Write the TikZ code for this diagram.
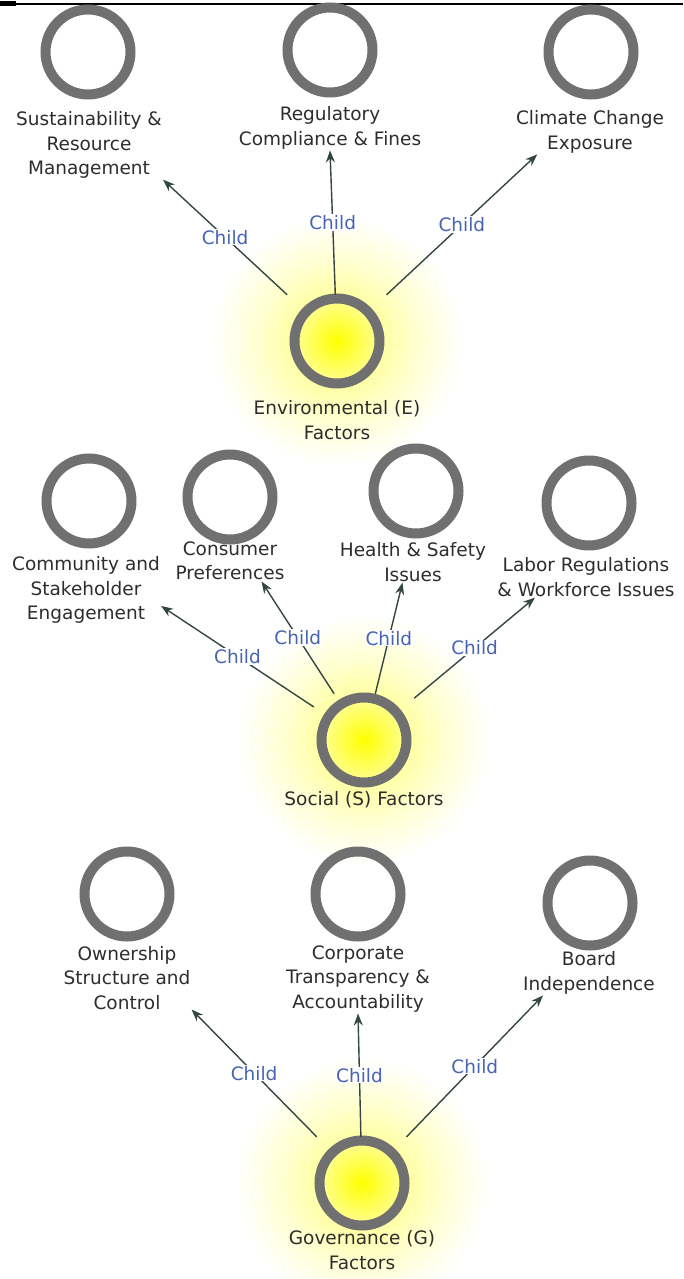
\documentclass[tikz,border=0pt]{standalone}
\usepackage{fontspec}
\setmainfont{DejaVu Sans}
\usetikzlibrary{arrows.meta, backgrounds}

\definecolor{ringgray}{RGB}{112,112,112}
\definecolor{linkgray}{RGB}{52,70,68}
\definecolor{childblue}{RGB}{72,100,176}
\definecolor{textgray}{RGB}{45,45,45}
\definecolor{glowyellow}{RGB}{255,255,60}
\definecolor{hubyellow}{RGB}{255,255,0}
\definecolor{hubpale}{RGB}{255,255,150}
% soft halo: the path radius maps to 25bp
\pgfdeclareradialshading{hubglow}{\pgfpoint{0bp}{0bp}}{%
  color(0bp)=(glowyellow!70); color(8bp)=(glowyellow!45);
  color(13bp)=(glowyellow!25); color(17.5bp)=(glowyellow!10);
  color(21bp)=(white); color(50bp)=(white)}

\begin{document}
\begin{tikzpicture}[x=1pt, y=-1pt,
    ringnode/.style={circle, draw=ringgray, line width=10pt, minimum size=85pt, inner sep=0pt},
    hubnode/.style={ringnode, inner color=hubyellow, outer color=hubpale},
    hubbox/.style={rectangle, minimum width=100pt, minimum height=92pt, inner sep=0pt},
    itemtext/.style={align=center, text=textgray, font=\fontsize{18.5}{24.5}\selectfont, inner sep=1pt},
    childlbl/.style={text=childblue, fill=white, font=\fontsize{18.5}{20}\selectfont, inner sep=1pt},
    link/.style={draw=linkgray, line width=1.4pt, -{Stealth[length=12pt, width=9pt]}}
]
    \useasboundingbox (0,0) rectangle (683,1279);

    % --- Top rule ---
    \draw[line width=1.6pt] (0,4) -- (683,4);
    \fill (0,1.5) rectangle (16,6.5);

    % --- Environmental (E) ---
    \node[hubbox] (E) at (337,341) {};
    \node[hubnode] (Eo) at (E) {};
    \node[itemtext] (Etxt) at (337,420) {Environmental (E)\\Factors};

    \node[ringnode] (e1o) at (88,52) {};
    \node[ringnode] (e2o) at (330,50) {};
    \node[ringnode] (e3o) at (591,52) {};
    \node[itemtext] (e1) at (89,145) {Sustainability \&\\Resource\\Management};
    \node[itemtext] (e2) at (330,128) {Regulatory\\Compliance \& Fines};
    \node[itemtext] (e3) at (590,132) {Climate Change\\Exposure};

    \draw[link] (E) -- (e1.south east) node[childlbl, pos=0.5] {Child};
    \draw[link] (E) -- (e2.south) node[childlbl, pos=0.5] {Child};
    \draw[link] (E) -- (e3.-157) node[childlbl, pos=0.5] {Child};

    % --- Social (S) ---
    \node[hubbox] (S) at (364,740) {};
    \node[hubnode] (So) at (S) {};
    \node[itemtext] (Stxt) at (364,800) {Social (S) Factors};

    \node[ringnode] (s1o) at (89,501) {};
    \node[ringnode] (s2o) at (230,497) {};
    \node[ringnode] (s3o) at (416,491) {};
    \node[ringnode] (s4o) at (589,503) {};
    \node[itemtext] (s1) at (86,590) {Community and\\Stakeholder\\Engagement};
    \node[itemtext] (s2) at (230,561) {Consumer\\Preferences};
    \node[itemtext] (s3) at (413,562) {Health \& Safety\\Issues};
    \node[itemtext] (s4) at (586,577) {Labor Regulations\\\& Workforce Issues};

    \draw[link] (S) -- (s1.-12) node[childlbl, pos=0.5] {Child};
    \draw[link] (S) -- (s2.-33) node[childlbl, pos=0.5] {Child};
    \draw[link] (S) -- (s3.-117) node[childlbl, pos=0.5] {Child};
    \draw[link] (S) -- (s4.-158) node[childlbl, pos=0.5] {Child};

    % --- Governance (G) ---
    \node[hubbox] (G) at (362,1183) {};
    \node[hubnode] (Go) at (G) {};
    \node[itemtext] (Gtxt) at (362,1250) {Governance (G)\\Factors};

    \node[ringnode] (g1o) at (127,894) {};
    \node[ringnode] (g2o) at (358,894) {};
    \node[ringnode] (g3o) at (590,903) {};
    \node[itemtext] (g1) at (127,978) {Ownership\\Structure and\\Control};
    \node[itemtext] (g2) at (358,979) {Corporate\\Transparency \&\\Accountability};
    \node[itemtext] (g3) at (589,973) {Board\\Independence};

    \draw[link] (G) -- (g1.-26) node[childlbl, pos=0.5] {Child};
    \draw[link] (G) -- (g2.south) node[childlbl, pos=0.5] {Child};
    \draw[link] (G) -- (g3.-154) node[childlbl, pos=0.5] {Child};

    % --- Glow behind the hubs ---
    \begin{pgfonlayer}{background}
        \shade[shading=hubglow] (E) circle (150);
        \shade[shading=hubglow] (S) circle (150);
        \shade[shading=hubglow] (G) circle (150);
    \end{pgfonlayer}

\end{tikzpicture}
\end{document}
